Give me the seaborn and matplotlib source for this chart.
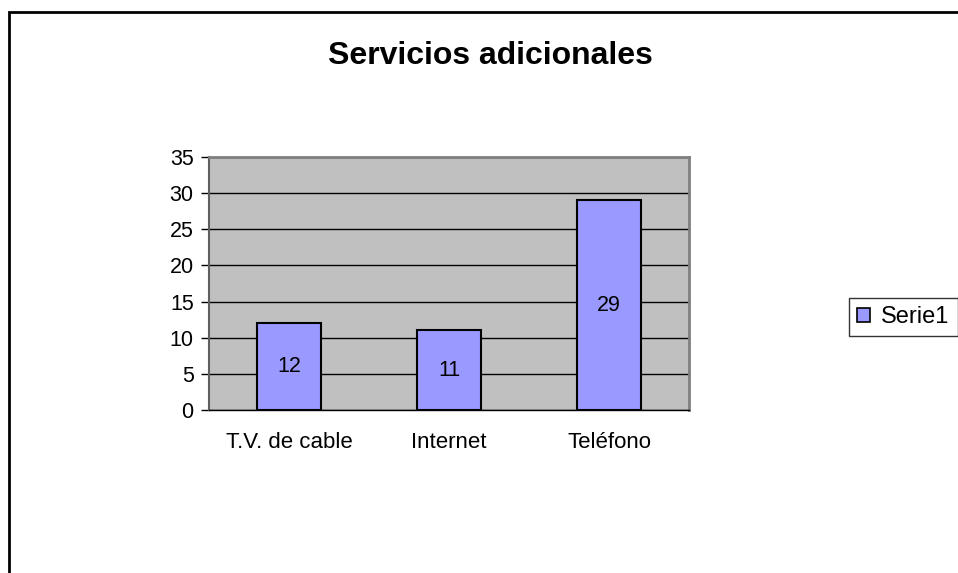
import matplotlib
matplotlib.use("Agg")
import matplotlib.pyplot as plt
import seaborn as sns
from matplotlib.patches import Rectangle, Patch

categorias = ["T.V. de cable", "Internet", "Teléfono"]
valores = [12, 11, 29]
serie = "Serie1"
titulo = "Servicios adicionales"

sns.set_style("white")
plt.rcParams['font.family'] = ['Liberation Sans', 'DejaVu Sans']
plt.rcParams['text.color'] = 'black'
plt.rcParams['xtick.color'] = 'black'
plt.rcParams['ytick.color'] = 'black'

fig = plt.figure(figsize=(9.58, 5.73), dpi=100)
ax = fig.add_axes([209/958, 1-410/573, 480/958, 253/573])
ax.set_facecolor('#C0C0C0')

sns.barplot(x=categorias, y=valores, color='#9999FF', edgecolor='black',
            linewidth=1.5, width=0.4, saturation=1, ax=ax)

ax.set_ylim(0, 35)
ax.set_xlim(-0.5, 2.5)
ax.set_yticks(range(0, 36, 5))
ax.yaxis.grid(True, color='black', linewidth=1)
ax.set_axisbelow(True)

# etiquetas centradas en cada barra
for i, v in enumerate(valores):
    ax.text(i, v/2, str(v), ha='center', va='center', fontsize=15.5, color='black')

# ticks de categoria entre barras
ax.set_xticks([0, 1, 2], categorias)
ax.set_xticks([-0.5, 0.5, 1.5, 2.5], minor=True)
ax.tick_params(axis='x', which='major', length=0, pad=16, labelsize=16)
ax.tick_params(axis='x', which='minor', length=6, width=1, color='black', direction='out')
ax.tick_params(axis='y', length=6, width=1, color='black', direction='out', pad=5, labelsize=15.5, left=True)
ax.set_xlabel("")
ax.set_ylabel("")

for s in ['top', 'right']:
    ax.spines[s].set_color('#808080')
    ax.spines[s].set_linewidth(2)
ax.spines['left'].set_color('#606060')
ax.spines['left'].set_linewidth(1.5)
ax.spines['bottom'].set_color('black')
ax.spines['bottom'].set_linewidth(1)

fig.text(490/958, 1-56/573, titulo, ha='center', va='center', fontsize=23, fontweight='bold', color='black')

handle = Patch(facecolor='#9999FF', edgecolor='black', linewidth=1.2)
leg = fig.legend([handle], [serie], loc='center left', bbox_to_anchor=(849/958, 1-317/573),
                 fontsize=17, frameon=True, fancybox=False, handlelength=0.55, handleheight=0.55,
                 handletextpad=0.45, borderpad=0.35, borderaxespad=0)
leg.get_frame().set_edgecolor('black')
leg.get_frame().set_linewidth(1)

# marco del area del grafico
fig.patches.append(Rectangle((9/958, -0.2), 1.1, 1.2 - 12/573, transform=fig.transFigure,
                             fill=False, edgecolor='black', linewidth=2, figure=fig))

fig.savefig("out.png", dpi=100)
